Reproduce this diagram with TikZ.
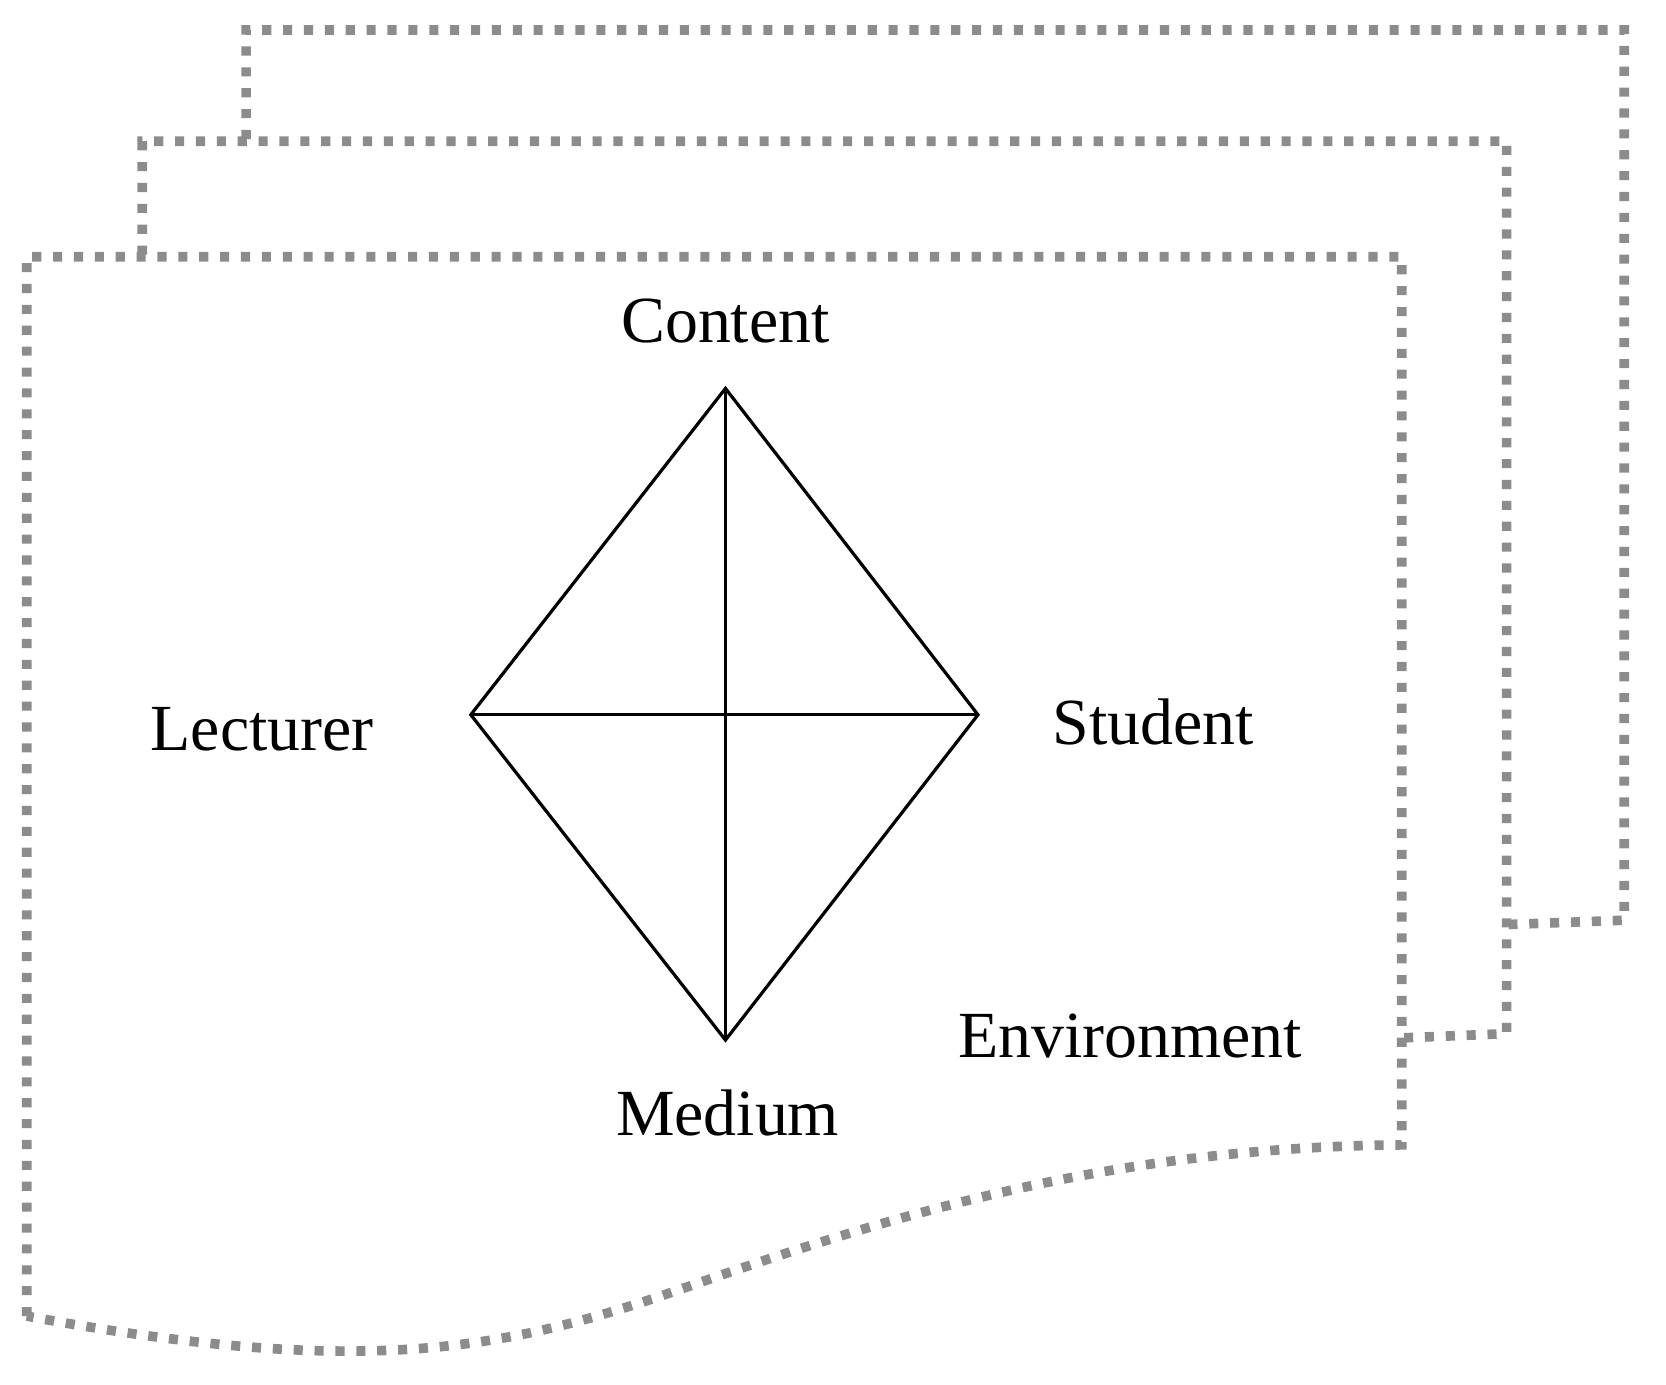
\documentclass[tikz,border=0pt]{standalone}
\usepackage{fontspec}
\setmainfont{Liberation Serif}
\begin{document}
\begin{tikzpicture}[x=0.01cm,y=-0.01cm,
    frame/.style={gray!90,line width=0.09cm,dash pattern=on 0.085cm off 0.11cm},
    edge/.style={line width=0.03cm},
    lbl/.style={font=\fontsize{17.5}{20}\selectfont}]
  \useasboundingbox (0,0) rectangle (1557,1294);
  % back sheets
  \draw[frame] (230,130) -- (230,28) -- (1518,28) -- (1518,860) -- (1410,864);
  \draw[frame] (133,238) -- (133,132) -- (1408,132) -- (1408,966) -- (1310,970);
  % front sheet with wavy bottom
  \draw[frame] (25,1230) -- (25,240) -- (1310,240) -- (1310,1070)
    .. controls (1050,1072) and (850,1130) .. (650,1200)
    .. controls (480,1260) and (350,1290) .. (25,1230);
  % tetrahedron corners
  \coordinate (c) at (678,363);
  \coordinate (l) at (440,668);
  \coordinate (s) at (914,668);
  \coordinate (m) at (678,972);
  \draw[edge] (c) -- (l) -- (m) -- (s) -- cycle;
  \draw[edge] (l) -- (s);
  \draw[line width=0.02cm] (c) -- (m);
  \node[lbl] (content) at (678,300) {Content};
  \node[lbl] (lecturer) at (245,682) {Lecturer};
  \node[lbl] (student) at (1078,675) {Student};
  \node[lbl] (environment) at (1056,968) {Environment};
  \node[lbl] (medium) at (680,1040) {Medium};
\end{tikzpicture}
\end{document}
